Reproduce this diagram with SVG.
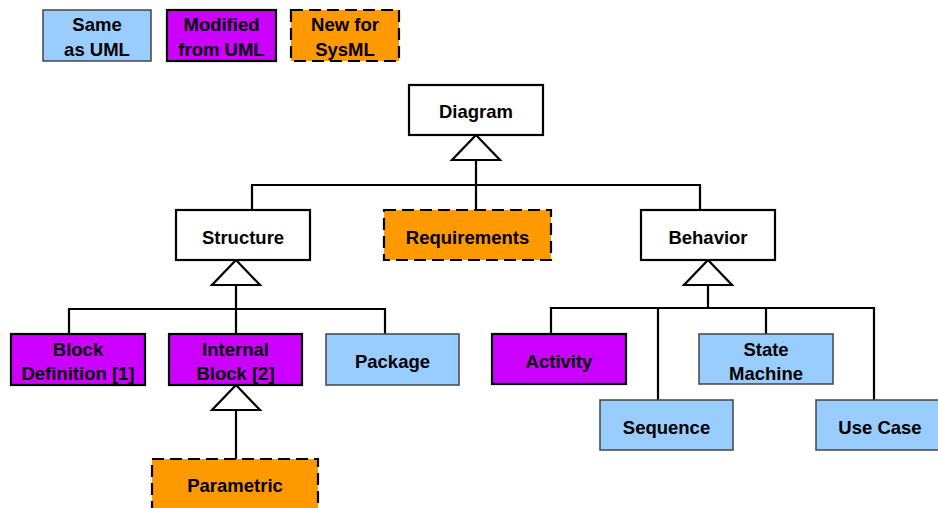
<svg xmlns="http://www.w3.org/2000/svg" width="938" height="508" viewBox="0 0 938 508">
<style>
text{font-family:"Liberation Sans",Arial,sans-serif;font-weight:bold;font-size:18.5px;text-anchor:middle;fill:#000}
.same{fill:#99ccff;stroke:#444;stroke-width:1.5}
.mod{fill:#cc00ff;stroke:#000;stroke-width:2.2}
.new{fill:#ff9900;stroke:#000;stroke-width:2.2;stroke-dasharray:12 6}
.abs{fill:#fff;stroke:#000;stroke-width:2.2}
.ln{fill:none;stroke:#000;stroke-width:2.2}
.tri{fill:#fff;stroke:#000;stroke-width:2.2;stroke-linejoin:miter}
</style>
<rect width="938" height="508" fill="#fff"/>
<g id="legend-same"><rect class="same" x="43" y="10" width="108" height="51"/><text x="97" y="31">Same</text><text x="97" y="56">as UML</text></g>
<g id="legend-mod"><rect class="mod" x="167" y="10" width="109" height="51"/><text x="221.5" y="31">Modified</text><text x="221.5" y="56">from UML</text></g>
<g id="legend-new"><rect class="new" x="291" y="10" width="108" height="51"/><text x="345" y="31">New for</text><text x="345" y="56">SysML</text></g>
<g id="connectors">
<path class="ln" d="M476 160V210M252 210V185H700V210"/>
<polygon class="tri" points="476,135 452,160 500,160"/>
<path class="ln" d="M236 285V334M69 334V309H385V334"/>
<polygon class="tri" points="236,260 212,285 260,285"/>
<path class="ln" d="M236 410V459"/>
<polygon class="tri" points="236,385 212,410 260,410"/>
<path class="ln" d="M708 285V308M551 334V308H874V400M658 308V400M766 308V334"/>
<polygon class="tri" points="708,260 684,285 732,285"/>
</g>
<g id="diagram"><rect class="abs" x="409" y="85" width="134" height="50"/><text x="476" y="118">Diagram</text></g>
<g id="structure"><rect class="abs" x="176" y="210" width="134" height="50"/><text x="243" y="244">Structure</text></g>
<g id="requirements"><rect class="new" x="384" y="210" width="167" height="50"/><text x="467.5" y="244">Requirements</text></g>
<g id="behavior"><rect class="abs" x="641" y="210" width="134" height="50"/><text x="708" y="244">Behavior</text></g>
<g id="block-definition"><rect class="mod" x="11" y="334" width="134" height="51"/><text x="78" y="356">Block</text><text x="78" y="380">Definition [1]</text></g>
<g id="internal-block"><rect class="mod" x="169" y="334" width="133" height="51"/><text x="235.5" y="356">Internal</text><text x="235.5" y="380">Block [2]</text></g>
<g id="package"><rect class="same" x="326" y="334" width="133" height="51"/><text x="392.5" y="368">Package</text></g>
<g id="parametric"><rect class="new" x="152" y="459" width="166" height="50"/><text x="235" y="492">Parametric</text></g>
<g id="activity"><rect class="mod" x="492" y="334" width="134" height="50"/><text x="559" y="368">Activity</text></g>
<g id="state-machine"><rect class="same" x="699" y="334" width="134" height="50"/><text x="766" y="356">State</text><text x="766" y="380">Machine</text></g>
<g id="sequence"><rect class="same" x="600" y="400" width="133" height="50"/><text x="666.5" y="434">Sequence</text></g>
<g id="use-case"><rect class="same" x="816" y="400" width="130" height="50"/><text x="880" y="434">Use Case</text></g>
</svg>
